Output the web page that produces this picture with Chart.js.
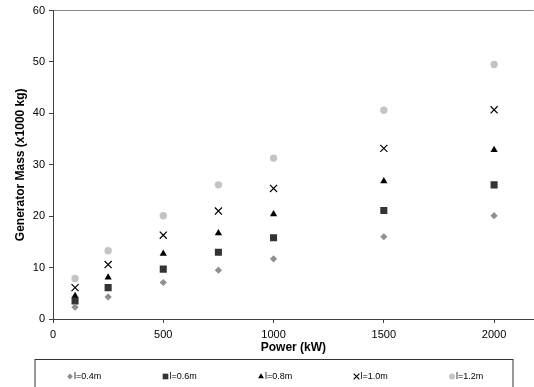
<!DOCTYPE html>
<html>
<head>
<meta charset="utf-8">
<script src="https://cdn.jsdelivr.net/npm/chart.js@4/dist/chart.umd.min.js"></script>
<style>
  html, body { margin: 0; padding: 0; background: #fff; overflow: hidden; }
  /* le cadre de tracé déborde un peu à droite, comme l'image d'origine rognée */
  #wrap { width: 534px; height: 387px; overflow: hidden; }
</style>
</head>
<body>
<div id="wrap"><canvas id="chart" width="540" height="387"></canvas></div>
<script>
'use strict';

/* Données */
var power  = [100, 250, 500, 750, 1000, 1500, 2000];
var mass04 = [2.3, 4.3, 7.1, 9.5, 11.7, 16.0, 20.1];
var mass06 = [3.5, 6.1, 9.7, 13.0, 15.8, 21.1, 26.1];
var mass08 = [4.5, 8.1, 12.7, 16.7, 20.4, 26.8, 32.9];
var mass10 = [6.1, 10.6, 16.3, 21.0, 25.4, 33.2, 40.7];
var mass12 = [7.9, 13.3, 20.1, 26.1, 31.3, 40.6, 49.5];
var seriesLabels = ['l=0.4m', 'l=0.6m', 'l=0.8m', 'l=1.0m', 'l=1.2m'];
var xTicks = [0, 500, 1000, 1500, 2000];

var FONT = '"Liberation Sans", Arial, sans-serif';

function pts(ys) {
    return ys.map(function (y, i) { return { x: power[i], y: y }; });
}

var styles = [
    { pointStyle: 'rectRot',  radius: 3.6, bg: '#8f8f8f', border: '#8f8f8f', bw: 0 },
    { pointStyle: 'rect',     radius: 5,   bg: '#333333', border: '#333333', bw: 0 },
    { pointStyle: 'triangle', radius: 4.2, bg: '#000000', border: '#000000', bw: 0 },
    { pointStyle: 'crossRot', radius: 5,   bg: '#000000', border: '#000000', bw: 1.2 },
    { pointStyle: 'circle',   radius: 3.7, bg: '#c4c4c4', border: '#c4c4c4', bw: 0 }
];
var values = [mass04, mass06, mass08, mass10, mass12];

var datasets = values.map(function (v, i) {
    var s = styles[i];
    return {
        label: seriesLabels[i],
        data: pts(v),
        showLine: false,
        pointStyle: s.pointStyle,
        pointRadius: s.radius,
        pointHoverRadius: s.radius,
        pointBackgroundColor: s.bg,
        pointBorderColor: s.border,
        pointBorderWidth: s.bw
    };
});

/* Légende encadrée sous le graphique */
var boxLegend = {
    id: 'boxLegend',
    afterDraw: function (chart) {
        var ctx = chart.ctx;
        var left = 35, top = 359.5, right = 513, bottom = 400;
        var cy = 376.5;
        ctx.save();
        ctx.strokeStyle = '#333';
        ctx.lineWidth = 1;
        ctx.strokeRect(left, top, right - left, bottom - top);
        datasets.forEach(function (ds, i) {
            var cx = 70 + i * 95.5;
            var s = styles[i];
            ctx.fillStyle = s.bg;
            ctx.strokeStyle = s.border;
            ctx.lineWidth = s.bw;
            Chart.helpers.drawPoint(ctx, {
                pointStyle: s.pointStyle,
                radius: s.radius * 0.8,
                rotation: 0,
                borderWidth: s.bw
            }, cx, cy);
            ctx.fillStyle = '#000';
            ctx.font = '9px ' + FONT;
            ctx.textBaseline = 'middle';
            ctx.fillText(ds.label, cx + 4, cy + 0.5);
        });
        ctx.restore();
    }
};

new Chart(document.getElementById('chart'), {
    type: 'scatter',
    data: { datasets: datasets },
    options: {
        responsive: false,
        animation: false,
        layout: { padding: { top: 9, right: 0, bottom: 32, left: 0 } },
        plugins: {
            legend: { display: false },
            tooltip: { enabled: false }
        },
        scales: {
            x: {
                type: 'linear',
                min: 0,
                max: 2180,
                border: { display: true, color: '#404040', width: 1 },
                grid: {
                    drawOnChartArea: false,
                    tickLength: 4,
                    tickColor: '#404040'
                },
                afterBuildTicks: function (scale) {
                    scale.ticks = xTicks.map(function (v) { return { value: v }; });
                },
                ticks: {
                    padding: 5,
                    color: '#000',
                    font: { family: FONT, size: 11 },
                    maxRotation: 0,
                    autoSkip: false,
                    callback: function (v) { return String(v); }
                },
                title: {
                    display: true,
                    text: 'Power (kW)',
                    color: '#000',
                    font: { family: FONT, size: 12, weight: 'bold' },
                    padding: { top: 0, bottom: 0 }
                },
                afterFit: function (scale) {
                    scale.height = 36;
                    scale.paddingRight = 0;
                    scale.paddingLeft = 0;
                }
            },
            y: {
                min: 0,
                max: 60,
                border: { display: true, color: '#404040', width: 1 },
                grid: {
                    color: function (c) {
                        return c.tick && c.tick.value === 60 ? '#8a8a8a' : 'rgba(0,0,0,0)';
                    },
                    tickLength: 4,
                    tickColor: '#404040'
                },
                ticks: {
                    stepSize: 10,
                    padding: 4,
                    color: '#000',
                    font: { family: FONT, size: 11 }
                },
                title: {
                    display: true,
                    text: 'Generator Mass (x1000 kg)',
                    color: '#000',
                    font: { family: FONT, size: 12, weight: 'bold' },
                    padding: { top: 13, bottom: 4 }
                },
                afterFit: function (scale) { scale.width = 53; }
            }
        }
    },
    plugins: [boxLegend]
});
</script>
</body>
</html>
